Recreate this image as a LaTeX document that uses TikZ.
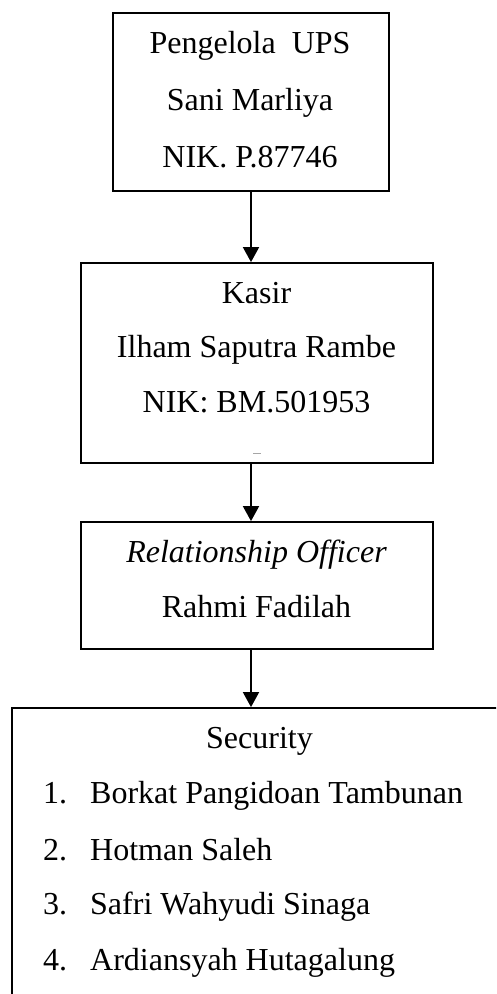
\documentclass[tikz,border=0pt]{standalone}
\usepackage{fontspec}
\setmainfont{Liberation Serif}
\usetikzlibrary{arrows.meta}
\begin{document}
\begin{tikzpicture}[x=1pt,y=-1pt,
  box/.style={draw, line width=1.8pt, rectangle, inner sep=0pt},
  txt/.style={anchor=base, inner sep=0pt, font=\fontsize{32}{38}\selectfont},
  ltxt/.style={anchor=base west, inner sep=0pt, font=\fontsize{32}{38}\selectfont},
  arr/.style={line width=1.8pt, -{Triangle[width=16pt,length=15pt]}}]
\useasboundingbox (0,0) rectangle (496,994);
\clip (0,0) rectangle (496,994);
% boxes
\node[box, minimum width=276pt, minimum height=178pt] (b1) at (251,102) {};
\node[box, minimum width=352pt, minimum height=200pt] (b2) at (257,363) {};
\node[box, minimum width=352pt, minimum height=127pt] (b3) at (257,585.5) {};
\node[box, minimum width=508pt, minimum height=312pt] (b4) at (266,864) {};
% texts box 1
\node[txt] (t11) at (250,53) {Pengelola\ \ UPS};
\node[txt] (t12) at (250,110) {Sani Marliya};
\node[txt] (t13) at (250,167) {NIK. P.87746};
% texts box 2
\node[txt] (t21) at (256.5,303) {Kasir};
\node[txt] (t22) at (256.5,357) {Ilham Saputra Rambe};
\node[txt] (t23) at (256.5,412) {NIK: BM.501953};
\draw[gray!70, line width=0.8pt] (253,453) -- (261,453);
% texts box 3
\node[txt] (t31) at (256.5,562) {\itshape Relationship Officer};
\node[txt] (t32) at (256.5,617) {Rahmi Fadilah};
% texts box 4
\node[txt] (t41) at (259.5,748) {Security};
\node[ltxt] (n1) at (43,803) {1.};
\node[ltxt] (n2) at (43,860) {2.};
\node[ltxt] (n3) at (43,914) {3.};
\node[ltxt] (n4) at (43,970) {4.};
\node[ltxt] (s1) at (90,803) {Borkat Pangidoan Tambunan};
\node[ltxt] (s2) at (90,860) {Hotman Saleh};
\node[ltxt] (s3) at (90,914) {Safri Wahyudi Sinaga};
\node[ltxt] (s4) at (90,970) {Ardiansyah Hutagalung};
% arrows
\draw[arr] (b1.south) -- (b1.south |- b2.north);
\draw[arr] (b1.south |- b2.south) -- (b1.south |- b3.north);
\draw[arr] (b1.south |- b3.south) -- (b1.south |- b4.north);
\end{tikzpicture}
\end{document}
